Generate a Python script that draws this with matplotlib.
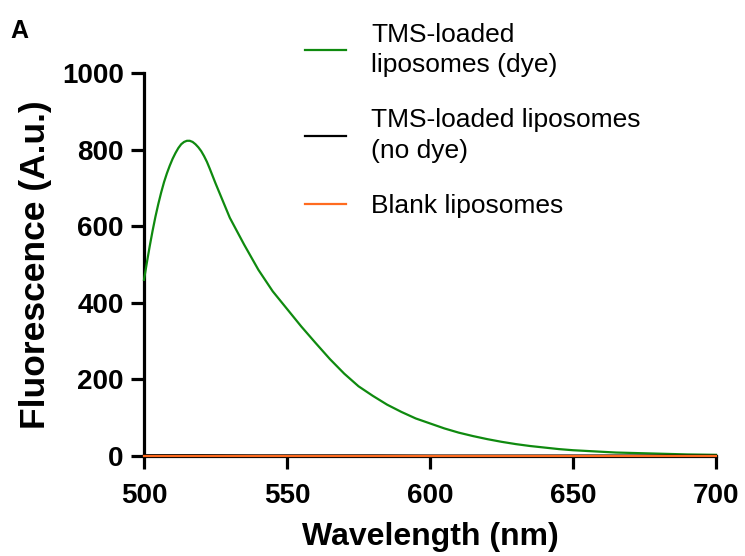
import numpy as np
import matplotlib
matplotlib.use('Agg')
import matplotlib.pyplot as plt

plt.rcParams['font.family'] = ['Liberation Sans', 'DejaVu Sans']

# 波长 (nm) 与荧光强度
wavelength_dye = [500, 501, 502, 503, 504, 505, 506, 507, 508, 509, 510, 511, 512, 513, 514,
                  515, 516, 517, 518, 519, 520, 521, 522, 523, 524, 525, 530, 535, 540, 545,
                  550, 555, 560, 565, 570, 575, 580, 585, 590, 595, 600, 605, 610, 615,
                  620, 625, 630, 635, 640, 645, 650, 655, 660, 665, 670, 675, 680, 685,
                  690, 695, 700]
fluor_dye = [460, 505, 548, 588, 625, 658, 688, 715, 738, 758, 776, 791, 804, 814, 820,
             823, 823, 820, 814, 806, 796, 783, 768, 750, 731, 712, 622, 552, 486, 430,
             384, 338, 295, 253, 215, 182, 157, 134, 115, 98, 85, 72, 61, 52,
             44, 37, 31, 26, 22, 18, 15, 13, 11, 9, 8, 7, 6, 5,
             4, 3.5, 3]

wavelength_ctrl = [500, 520, 540, 560, 580, 600, 620, 640, 660, 680, 700]
fluor_no_dye = [2, 2, 1.5, 1.5, 1.5, 1, 1, 1, 1, 1, 1]
fluor_blank = [1, 1, 1, 1, 1, 1, 1, 1, 1, 1, 1]

labels = ['TMS-loaded\nliposomes (dye)', 'TMS-loaded liposomes\n(no dye)', 'Blank liposomes']
colors = ['#0f8a0f', '#000000', '#ff6b1f']

fig = plt.figure(figsize=(7.45, 5.56), dpi=100)
ax = fig.add_axes([0.1933, 0.1799, 0.7678, 0.6888])

ax.plot(wavelength_dye, fluor_dye, color=colors[0], lw=1.6, label=labels[0], zorder=3, clip_on=False)
ax.plot(wavelength_ctrl, fluor_no_dye, color=colors[1], lw=1.6, label=labels[1], zorder=3, clip_on=False)
ax.plot(wavelength_ctrl, fluor_blank, color=colors[2], lw=1.6, label=labels[2], zorder=3, clip_on=False)

ax.set_xlim(500, 700)
ax.set_ylim(0, 1000)
ax.set_xticks([500, 550, 600, 650, 700])
ax.set_yticks([0, 200, 400, 600, 800, 1000])

for s in ['top', 'right']:
    ax.spines[s].set_visible(False)
for s in ['left', 'bottom']:
    ax.spines[s].set_linewidth(2.3)
ax.tick_params(width=2.3, length=9.5, labelsize=20)
ax.tick_params(axis='y', pad=5)
ax.tick_params(axis='x', pad=10)
for t in ax.get_xticklabels() + ax.get_yticklabels():
    t.set_fontweight('bold')

ax.set_xlabel('Wavelength (nm)', fontsize=23, fontweight='bold', labelpad=9)
ax.set_ylabel('Fluorescence (A.u.)', fontsize=25.5, fontweight='bold', labelpad=7)

fig.text(0.014, 0.944, 'A', fontsize=18, fontweight='bold', va='center', ha='left')

leg = fig.legend(loc='upper left', bbox_to_anchor=(0.41, 0.959), frameon=False,
                 fontsize=19, handlelength=1.55, handletextpad=0.95, labelspacing=1.17,
                 borderpad=0, borderaxespad=0)
for t in leg.get_texts():
    t.set_linespacing(1.35)

fig.savefig('out.png', dpi=100)
